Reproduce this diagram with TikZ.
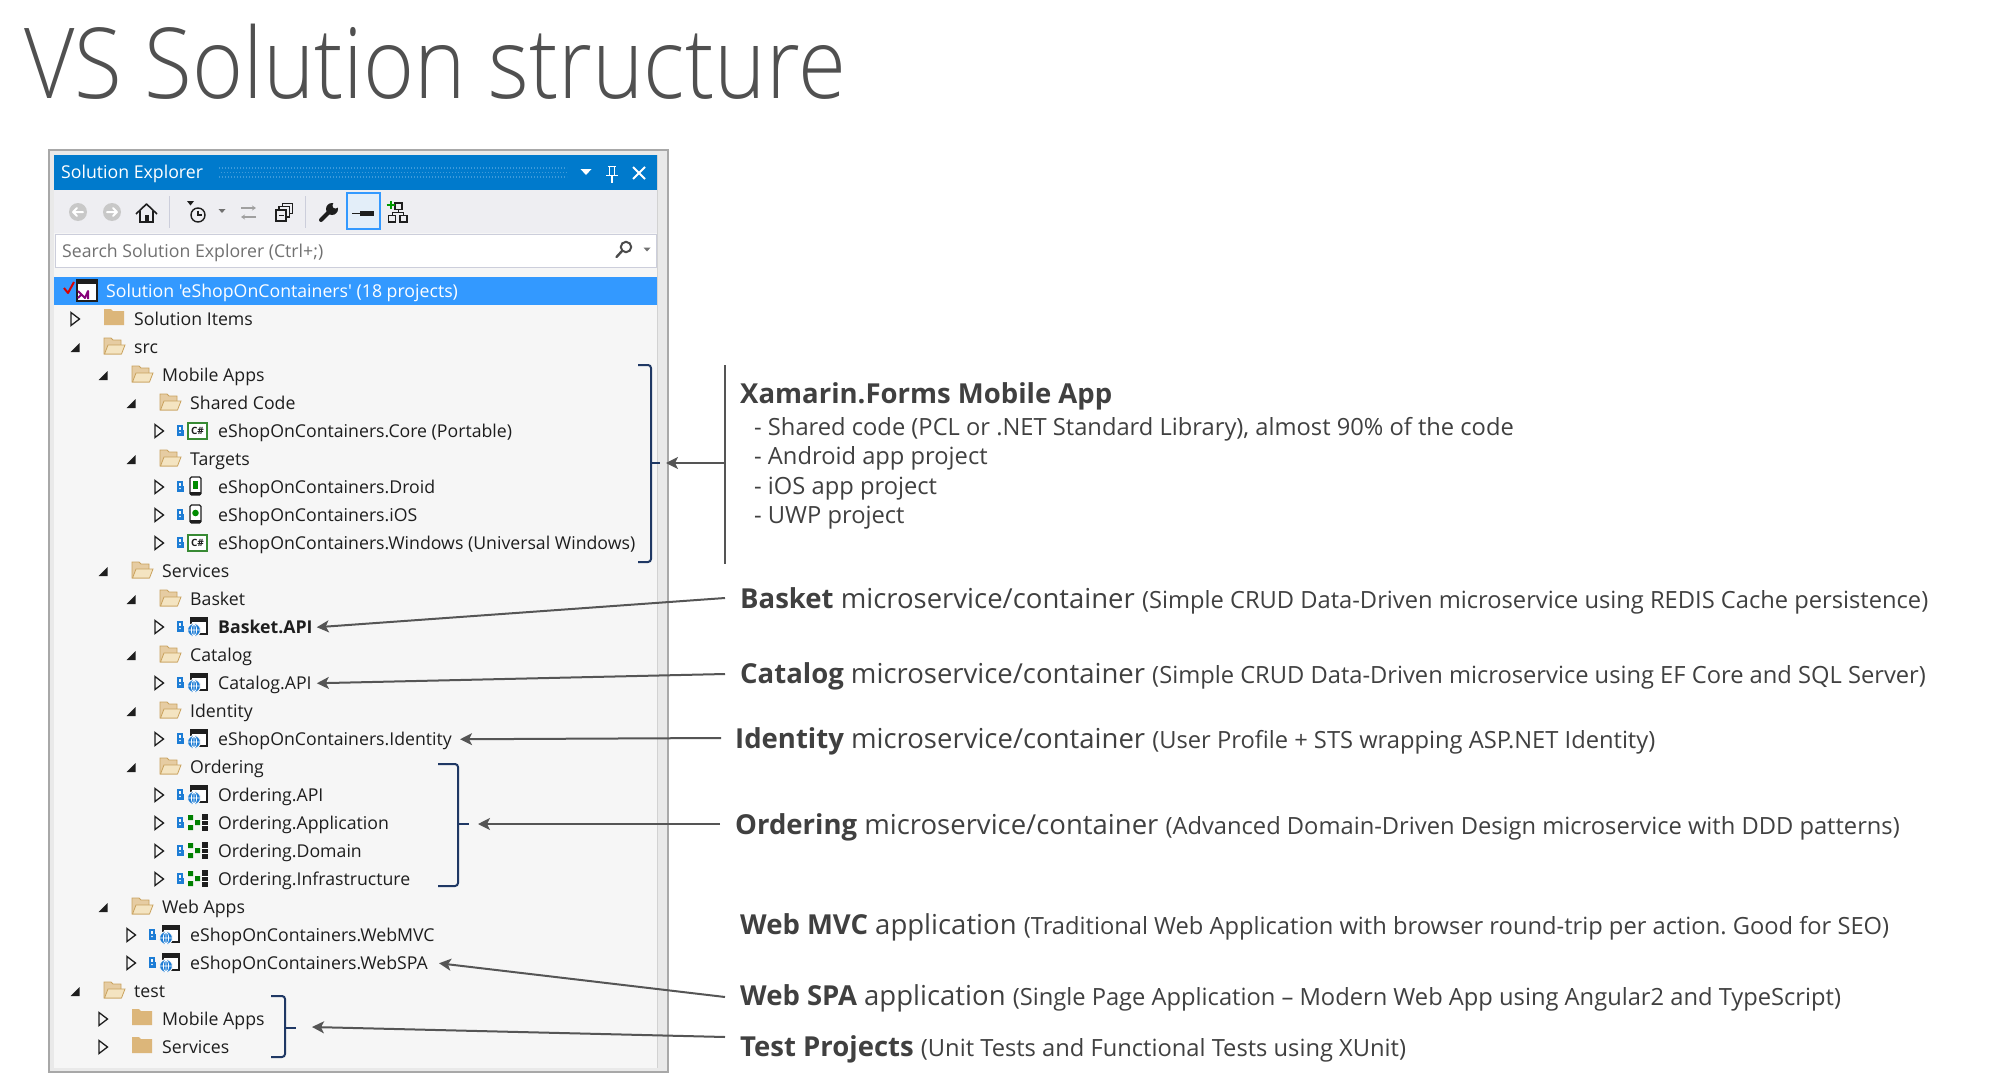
\documentclass[tikz,border=0pt]{standalone}
\usepackage{fontspec}
\usetikzlibrary{arrows.meta}
\frenchspacing
\newfontfamily\osans{Open Sans}
\IfFontExistsTF{Open Sans Light}{\newfontfamily\ttlfont{Open Sans Light}[FakeStretch=0.89]}{%
  \IfFontExistsTF{Lato Light}{\newfontfamily\ttlfont{Lato Light}[FakeStretch=0.89]}{\newfontfamily\ttlfont{Open Sans}[FakeStretch=0.89]}}
\definecolor{vsblue}{HTML}{007ACC}
\definecolor{selblue}{HTML}{3399FF}
\definecolor{selbg}{HTML}{E3EEF9}
\definecolor{tbbg}{HTML}{EEEEF2}
\definecolor{treebg}{HTML}{F6F6F6}
\definecolor{framebg}{HTML}{E9E9E9}
\definecolor{framebd}{HTML}{A8A8A8}
\definecolor{innerbd}{HTML}{D2D2D2}
\definecolor{ink}{HTML}{1E1E1E}
\definecolor{desc}{HTML}{404040}
\definecolor{arrowc}{HTML}{555555}
\definecolor{bracec}{HTML}{1F3864}
\definecolor{foldtan}{HTML}{DCB67A}
\definecolor{foldlight}{HTML}{F4E4C1}
\definecolor{foldedge}{HTML}{C9A25E}
\definecolor{lockblue}{HTML}{1C7CD5}
\definecolor{csgreen}{HTML}{388A34}
\definecolor{tgray}{HTML}{505050}
\definecolor{tbgray}{HTML}{C8C8C8}
\definecolor{sepc}{HTML}{CCCEDB}
\definecolor{gripc}{HTML}{3E9BDB}
\definecolor{searchtxt}{HTML}{717171}
\newcommand\smallpart{\fontsize{23.7}{28}\selectfont}
\newcounter{icn}
\tikzset{
  treetxt/.style={anchor=base west, inner sep=0pt, text height=12.5pt, text depth=0pt,
    font=\osans\fontsize{17.7}{20}\selectfont, text=ink},
  desctxt/.style={anchor=base west, inner sep=0pt, text=desc, font=\osans\fontsize{27.5}{33}\selectfont},
  bullettxt/.style={anchor=base west, inner sep=0pt, text=desc, font=\osans\fontsize{23.7}{28}\selectfont},
  arr/.style={draw=arrowc, line width=2pt, -{Stealth[length=12pt,width=12pt,inset=3pt]}},
  vline/.style={draw=arrowc, line width=2pt},
  bracel/.style={draw=bracec, line width=2pt, rounded corners=3pt},
}
% expand arrows
\newcommand\ArrO[2]{\fill[ink] (#1-4.5,#2+5) -- (#1+4.5,#2+5) -- (#1+4.5,#2-4) -- cycle;}
\newcommand\ArrC[2]{\draw[ink, line width=1.3pt, line join=miter] (#1-4,#2-6.5) -- (#1+4.5,#2) -- (#1-4,#2+6.5) -- cycle;}
% folders
\newcommand\FoldO[2]{%
  \filldraw[fill=foldtan!70!white, draw=foldedge, line width=0.8pt] (#1,#2+7) -- (#1,#2-9) -- (#1+7,#2-9) -- (#1+9,#2-7) -- (#1+17,#2-7) -- (#1+17,#2+7) -- cycle;
  \filldraw[fill=foldlight, draw=foldedge, line width=0.8pt] (#1+0.5,#2+7) -- (#1+4,#2-2) -- (#1+21,#2-2) -- (#1+17.5,#2+7) -- cycle;}
\newcommand\FoldC[2]{\fill[foldtan] (#1,#2-10) -- (#1+7,#2-10) -- (#1+9,#2-8) -- (#1+20,#2-8) -- (#1+20,#2+6) -- (#1,#2+6) -- cycle;}
% lock
\newcommand\LockI[2]{\draw[lockblue, line width=1.2pt] (#1-2,#2-1) -- (#1-2,#2-5) -- (#1+2,#2-5) -- (#1+2,#2-1);
  \fill[lockblue] (#1-3.5,#2-1.5) rectangle (#1+3.5,#2+4.5); \fill[white] (#1,#2+1.5) circle (0.9);}
% project icons (x = left of icon cell, y = row centre)
\newcommand\CsI[2]{\stepcounter{icn}%
  \filldraw[fill=white, draw=csgreen, line width=1.3pt] (#1+1,#2-8) rectangle (#1+20,#2+8);
  \node[font=\osans\bfseries\fontsize{10}{10}\selectfont, text=ink, inner sep=0pt] (cs\arabic{icn}) at (#1+10.5,#2) {C\#};}
\newcommand\WebI[2]{%
  \filldraw[fill=white, draw=ink, line width=1.2pt] (#1+4,#2-9) rectangle (#1+20,#2+7);
  \fill[ink] (#1+4,#2-9) rectangle (#1+20,#2-5.5);
  \filldraw[fill=lockblue, draw=treebg, line width=1pt] (#1+7,#2+3) circle (6.5);
  \draw[white, line width=0.7pt] (#1+7,#2+3) ellipse (2.6 and 6) (#1+1,#2+3) -- (#1+13,#2+3) (#1+7,#2-3) -- (#1+7,#2+9);}
\newcommand\DroidI[2]{%
  \filldraw[fill=white, draw=ink, line width=1.3pt, rounded corners=1.5pt] (#1+3,#2-10) rectangle (#1+14,#2+8);
  \fill[ink] (#1+3,#2+5) rectangle (#1+14,#2+8);
  \fill[green!55!black] (#1+6,#2-6) rectangle (#1+11,#2+2);}
\newcommand\IosI[2]{%
  \filldraw[fill=white, draw=ink, line width=1.3pt, rounded corners=1.5pt] (#1+3,#2-10) rectangle (#1+14,#2+8);
  \fill[ink] (#1+3,#2+5) rectangle (#1+14,#2+8);
  \fill[green!55!black] (#1+8.5,#2-2) circle (3.3);}
\newcommand\LibI[2]{%
  \fill[green!50!black] (#1+1,#2-8) rectangle (#1+6,#2-3) (#1+1,#2+2) rectangle (#1+6,#2+7) (#1+8,#2-3) rectangle (#1+13,#2+2);
  \fill[ink] (#1+15,#2-9) rectangle (#1+21,#2+8);
  \draw[white, line width=0.8pt] (#1+15,#2-3) -- (#1+21,#2-3) (#1+15,#2+2) -- (#1+21,#2+2);}
% tree rows
\newcommand\FRow[5]{%
  \pgfmathsetmacro\rwx{75+28*(#2-1)}%
  \pgfmathsetmacro\rwy{291+28*#3}%
  \if#4o\ArrO{\rwx}{\rwy}\FoldO{\rwx+29}{\rwy}\else\ArrC{\rwx}{\rwy}\FoldC{\rwx+29}{\rwy}\fi
  \node[treetxt] (#1) at (\rwx+59,\rwy+6.5) {#5};}
\newcommand\PRow[5]{%
  \pgfmathsetmacro\rwx{75+28*(#2-1)}%
  \pgfmathsetmacro\rwy{291+28*#3}%
  \ArrC{\rwx}{\rwy}\LockI{\rwx+21}{\rwy}#4{\rwx+28}{\rwy}%
  \node[treetxt] (#1) at (\rwx+59,\rwy+6.5) {#5};}

\begin{document}
\begin{tikzpicture}[x=1pt,y=-1pt]
\useasboundingbox (0,0) rectangle (1995,1081);
\fill[white] (0,0) rectangle (1995,1081);
% title
\node[anchor=base west, inner sep=0pt, text=tgray, font=\ttlfont\fontsize{98}{110}\selectfont] (title) at (24,99) {VS Solution structure};

% ---------- panel ----------
\filldraw[fill=framebg, draw=framebd, line width=2pt] (49,150) rectangle (668,1072);
\fill[treebg] (54,155) rectangle (657,1068);
\draw[innerbd, line width=1pt] (657,155) -- (657,1068);
\fill[vsblue] (54,155) rectangle (657,190);
\fill[tbbg] (54,190) rectangle (657,233);
\filldraw[fill=white, draw=sepc, line width=1pt] (55,234) rectangle (656,267);
% title bar
\node[anchor=base west, inner sep=0pt, text=white, font=\osans\fontsize{17.7}{20}\selectfont] (setitle) at (61,178.5) {Solution Explorer};
\draw[gripc, line width=1.3pt, dash pattern=on 1.3pt off 1.7pt] (219,168) -- (567,168) (220.5,172.5) -- (567,172.5) (219,177) -- (567,177);
\fill[white] (580.5,169) -- (591.5,169) -- (586,175) -- cycle;
\draw[white, line width=1.4pt] (608,166.5) -- (616,166.5) (609.5,166.5) -- (609.5,175) (614.5,166.5) -- (614.5,175) (606,175.5) -- (618,175.5) (612,175.5) -- (612,183);
\draw[white, line width=2pt] (633,167) -- (645,179) (633,179) -- (645,167);
% toolbar
\fill[tbgray] (78,212) circle (9);
\draw[white, line width=2pt, line cap=round, line join=round] (83,212) -- (73,212) (77,208) -- (73,212) -- (77,216);
\fill[tbgray] (112,212) circle (9);
\draw[white, line width=2pt, line cap=round, line join=round] (107,212) -- (117,212) (113,208) -- (117,212) -- (113,216);
\draw[ink, line width=1.6pt, line join=round] (136,214) -- (146.5,204) -- (157,214);
\draw[ink, line width=1.6pt] (140,211) -- (140,222) -- (153,222) -- (153,211);
\fill[ink] (144.5,215) rectangle (148.5,222);
\draw[sepc, line width=1pt] (169,196) -- (169,228) (305,196) -- (305,228);
\draw[ink, line width=1.4pt] (198,215) circle (7);
\draw[ink, line width=1.2pt] (198,210.5) -- (198,215) -- (201.5,215);
\fill[ink] (187,201) -- (194,201) -- (190.5,205.5) -- cycle;
\fill[searchtxt] (218.5,209) -- (225.5,209) -- (222,213) -- cycle;
\draw[tbgray!80!black, line width=1.5pt, -{Stealth[length=4pt,width=5pt]}] (241,208) -- (256,208);
\draw[tbgray!80!black, line width=1.5pt, -{Stealth[length=4pt,width=5pt]}] (256,217) -- (241,217);
\draw[ink, line width=1.3pt] (276,210) rectangle (286,221);
\draw[ink, line width=1.3pt] (279,210) -- (279,206.5) -- (289.5,206.5) -- (289.5,217) -- (286,217);
\draw[ink, line width=1.3pt] (282.5,206.5) -- (282.5,203.5) -- (292.5,203.5) -- (292.5,213.5) -- (289.5,213.5);
\draw[ink, line width=1pt] (278.5,215.5) -- (283.5,215.5);
\draw[ink, line width=4pt, line cap=round] (321,220) -- (330,211);
\fill[ink] (332,209) circle (6);
\fill[tbbg] (335.5,205.5) circle (3);
\filldraw[fill=selbg, draw=selblue, line width=1.3pt] (347,193) rectangle (380,229);
\fill[ink] (360,210.5) rectangle (374,216);
\draw[ink, line width=1pt] (352,213.5) -- (360,213.5);
\draw[ink, line width=1.2pt] (388.5,215.5) rectangle (395.5,222) (400,215.5) rectangle (407,222) (395,203) rectangle (402,209.5);
\draw[ink, line width=1pt] (398.5,209.5) -- (398.5,212.5) -- (392,212.5) -- (392,215.5) (398.5,212.5) -- (403.5,212.5) -- (403.5,215.5);
\draw[green!60!black, line width=2pt] (386.5,205) -- (394.5,205) (390.5,201) -- (390.5,209);
% search box
\node[anchor=base west, inner sep=0pt, text=searchtxt, font=\osans\fontsize{17.7}{20}\selectfont] (search) at (62,257.5) {Search Solution Explorer (Ctrl+;)};
\draw[ink!80, line width=2pt] (626,247) circle (5.2);
\draw[ink!80, line width=2.4pt, line cap=round] (622,251) -- (616.5,257);
\fill[searchtxt] (643.5,247.5) -- (650.5,247.5) -- (647,251.5) -- cycle;

% ---------- tree ----------
\fill[selblue] (54,277) rectangle (657,305);
\filldraw[fill=white, draw=ink, line width=1.2pt] (77,280) rectangle (97,301);
\fill[ink] (77,280) rectangle (97,284);
\draw[purple!70!blue, line width=2pt, line join=round] (78,291) -- (85,298) -- (88,291) -- (88,299) (78,298) -- (82,294);
\draw[red!85!black, line width=2pt, line join=round] (64,288) -- (68,293) -- (74,282);
\node[treetxt, text=white] (r0) at (106,297.5) {Solution 'eShopOnContainers' (18 projects)};

\FRow{r1}{1}{1}{c}{Solution Items}
\FRow{r2}{1}{2}{o}{src}
\FRow{r3}{2}{3}{o}{Mobile Apps}
\FRow{r4}{3}{4}{o}{Shared Code}
\PRow{r5}{4}{5}{\CsI}{eShopOnContainers.Core (Portable)}
\FRow{r6}{3}{6}{o}{Targets}
\PRow{r7}{4}{7}{\DroidI}{eShopOnContainers.Droid}
\PRow{r8}{4}{8}{\IosI}{eShopOnContainers.iOS}
\PRow{r9}{4}{9}{\CsI}{eShopOnContainers.Windows (Universal Windows)}
\FRow{r10}{2}{10}{o}{Services}
\FRow{r11}{3}{11}{o}{Basket}
\PRow{r12}{4}{12}{\WebI}{\bfseries Basket.API}
\FRow{r13}{3}{13}{o}{Catalog}
\PRow{r14}{4}{14}{\WebI}{Catalog.API}
\FRow{r15}{3}{15}{o}{Identity}
\PRow{r16}{4}{16}{\WebI}{eShopOnContainers.Identity}
\FRow{r17}{3}{17}{o}{Ordering}
\PRow{r18}{4}{18}{\WebI}{Ordering.API}
\PRow{r19}{4}{19}{\LibI}{Ordering.Application}
\PRow{r20}{4}{20}{\LibI}{Ordering.Domain}
\PRow{r21}{4}{21}{\LibI}{Ordering.Infrastructure}
\FRow{r22}{2}{22}{o}{Web Apps}
\PRow{r23}{3}{23}{\WebI}{eShopOnContainers.WebMVC}
\PRow{r24}{3}{24}{\WebI}{eShopOnContainers.WebSPA}
\FRow{r25}{1}{25}{o}{test}
\FRow{r26}{2}{26}{c}{Mobile Apps}
\FRow{r27}{2}{27}{c}{Services}

% ---------- braces ----------
\draw[bracel] (638,365) -- (651,365) -- (651,562) -- (638,562);
\draw[bracec, line width=2pt] (651,463) -- (660,463);
\coordinate (mobtip) at (666,463);
\draw[bracel] (438,764) -- (458,764) -- (458,886) -- (438,886);
\draw[bracec, line width=2pt] (458,824) -- (469,824);
\coordinate (ordtip) at (478,824);
\draw[bracel] (271,996) -- (285,996) -- (285,1057) -- (271,1057);
\draw[bracec, line width=2pt] (285,1028) -- (296,1028);
\coordinate (tsttip) at (312,1027);

% ---------- descriptions ----------
\node[desctxt] (xam) at (740,403) {\bfseries Xamarin.Forms Mobile App};
\node[bullettxt] (b1) at (754,435) {- Shared code (PCL or .NET Standard Library), almost 90\% of the code};
\node[bullettxt] (b2) at (754,464.5) {- Android app project};
\node[bullettxt] (b3) at (754,494) {- iOS app project};
\node[bullettxt] (b4) at (754,523.5) {- UWP project};
\node[desctxt] (bask) at (740,608) {{\bfseries Basket} microservice/container {\smallpart (Simple CRUD Data-Driven microservice using REDIS Cache persistence)}};
\node[desctxt] (cat) at (740,683) {{\bfseries Catalog} microservice/container {\smallpart (Simple CRUD Data-Driven microservice using EF Core and SQL Server)}};
\node[desctxt] (ident) at (735,748) {{\bfseries Identity} microservice/container {\smallpart (User Profile + STS wrapping ASP.NET Identity)}};
\node[desctxt] (ord) at (735,834) {{\bfseries Ordering} microservice/container {\smallpart (Advanced Domain-Driven Design microservice with DDD patterns)}};
\node[desctxt] (mvc) at (740,934) {{\bfseries Web MVC} application {\smallpart (Traditional Web Application with browser round-trip per action. Good for SEO)}};
\node[desctxt] (spa) at (740,1005) {{\bfseries Web SPA} application {\smallpart (Single Page Application – Modern Web App using Angular2 and TypeScript)}};
\node[desctxt] (tst) at (740,1056) {{\bfseries Test Projects} {\smallpart (Unit Tests and Functional Tests using XUnit)}};

% ---------- connectors ----------
\coordinate (vtop) at (725,365);
\coordinate (vbot) at (725,564);
\coordinate (vmid) at (725,463);
\draw[vline] (vtop) -- (vbot);
\draw[arr] (vmid) -- (mobtip);
\coordinate (basS) at (725,598);
\draw[arr] (basS) -- ([xshift=4pt]r12.east);
\coordinate (catS) at (725,674);
\draw[arr] (catS) -- ([xshift=5pt]r14.east);
\coordinate (idS) at (721,738);
\draw[arr] (idS) -- ([xshift=8pt]r16.east);
\coordinate (ordS) at (720,824);
\draw[arr] (ordS) -- (ordtip);
\coordinate (spaS) at (725,997);
\draw[arr] (spaS) -- ([xshift=11pt]r24.east);
\coordinate (tstS) at (725,1037);
\draw[arr] (tstS) -- (tsttip);
\end{tikzpicture}
\end{document}
